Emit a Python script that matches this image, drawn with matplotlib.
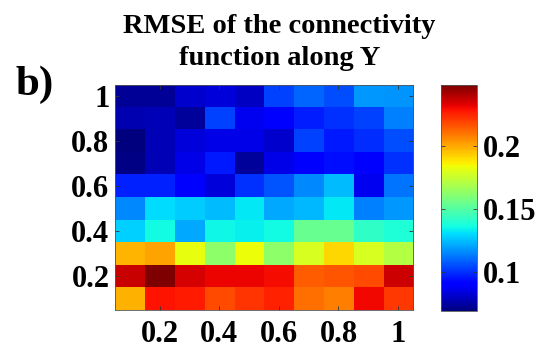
import numpy as np
import matplotlib
matplotlib.use("Agg")
import matplotlib.pyplot as plt

plt.rcParams['font.family'] = ['Liberation Serif', 'DejaVu Serif']
plt.rcParams['font.weight'] = 'bold'

# Grid of connectivity parameters (cell centres)
x_vals = [0.1, 0.2, 0.3, 0.4, 0.5, 0.6, 0.7, 0.8, 0.9, 1.0]
y_vals = [0.1, 0.2, 0.3, 0.4, 0.5, 0.6, 0.7, 0.8, 0.9, 1.0]

# RMSE values, one row per y value (bottom row first)
rmse_y01 = [0.1979, 0.2283, 0.2265, 0.2176, 0.2220, 0.2256, 0.2104, 0.2077, 0.2301, 0.2212]
rmse_y02 = [0.2362, 0.2480, 0.2342, 0.2310, 0.2310, 0.2292, 0.2140, 0.2158, 0.2176, 0.2355]
rmse_y03 = [0.1972, 0.2006, 0.1818, 0.1621, 0.1836, 0.1621, 0.1782, 0.1907, 0.1782, 0.1705]
rmse_y04 = [0.1281, 0.1361, 0.1209, 0.1352, 0.1334, 0.1361, 0.1538, 0.1538, 0.1424, 0.1388]
rmse_y05 = [0.1155, 0.1299, 0.1272, 0.1245, 0.1325, 0.1209, 0.1236, 0.1325, 0.1138, 0.1182]
rmse_y06 = [0.0976, 0.0976, 0.0905, 0.0833, 0.1003, 0.1066, 0.1155, 0.1245, 0.0869, 0.1120]
rmse_y07 = [0.0699, 0.0780, 0.0851, 0.0959, 0.0735, 0.0851, 0.0905, 0.0941, 0.0905, 0.1003]
rmse_y08 = [0.0690, 0.0780, 0.0833, 0.0851, 0.0851, 0.0815, 0.1030, 0.0959, 0.0994, 0.1048]
rmse_y09 = [0.0771, 0.0780, 0.0735, 0.1030, 0.0869, 0.0905, 0.0967, 0.1003, 0.1030, 0.1138]
rmse_y10 = [0.0726, 0.0726, 0.0815, 0.0833, 0.0797, 0.1030, 0.1093, 0.1048, 0.1182, 0.1173]

xticks = [0.2, 0.4, 0.6, 0.8, 1.0]
xtick_labels = ['0.2', '0.4', '0.6', '0.8', '1']
yticks = [0.2, 0.4, 0.6, 0.8, 1.0]
ytick_labels = ['0.2', '0.4', '0.6', '0.8', '1']
cbar_ticks = [0.1, 0.15, 0.2]
cbar_labels = ['0.1', '0.15', '0.2']

data = np.array([rmse_y01, rmse_y02, rmse_y03, rmse_y04, rmse_y05,
                 rmse_y06, rmse_y07, rmse_y08, rmse_y09, rmse_y10])

fig = plt.figure(figsize=(5.56, 3.58), dpi=100)
ax = fig.add_axes([0.2068, 0.1341, 0.536, 0.6285])

dx = x_vals[1] - x_vals[0]
dy = y_vals[1] - y_vals[0]
extent = [x_vals[0] - dx / 2, x_vals[-1] + dx / 2,
          y_vals[0] - dy / 2, y_vals[-1] + dy / 2]
im = ax.imshow(data, cmap='jet', origin='lower', extent=extent,
               aspect='auto', interpolation='nearest')

ax.set_xticks(xticks)
ax.set_xticklabels(xtick_labels)
ax.set_yticks(yticks)
ax.set_yticklabels(ytick_labels)
ax.tick_params(direction='in', length=3, width=0.6, top=True, right=True,
               labelsize=22, pad=4, colors='#333333', labelcolor='black')
ax.tick_params(axis='x', pad=7)
for sp in ax.spines.values():
    sp.set_linewidth(0.6)
    sp.set_color('#555555')

cax = fig.add_axes([0.7932, 0.1313, 0.0647, 0.631])
cb = fig.colorbar(im, cax=cax, ticks=cbar_ticks)
cb.ax.set_yticklabels(cbar_labels)
cb.ax.tick_params(direction='in', length=3, width=0.6, left=True, right=True,
                  labelsize=22, pad=4, colors='#333333', labelcolor='black')
cb.outline.set_linewidth(0.6)
cb.outline.set_edgecolor('#555555')

fig.text(0.503, 0.908, 'RMSE of the connectivity', ha='center', va='baseline',
         fontsize=20.5, fontweight='bold')
fig.text(0.503, 0.818, 'function along Y', ha='center', va='baseline',
         fontsize=20.5, fontweight='bold')
fig.text(0.027, 0.735, 'b)', ha='left', va='baseline',
         fontsize=31, fontweight='bold')

fig.savefig('out.png', dpi=100)
